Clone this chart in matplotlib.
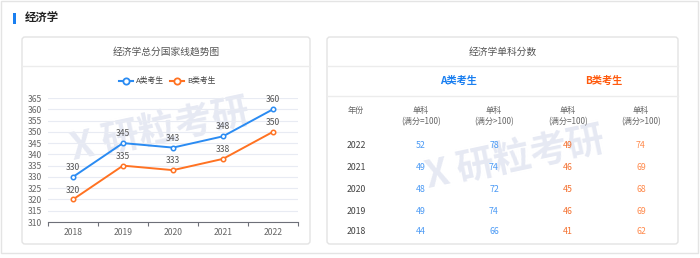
import matplotlib.pyplot as plt
from matplotlib.patches import FancyBboxPatch, Rectangle

plt.rcParams['font.family'] = ['Noto Sans CJK SC', 'DejaVu Sans']

# data
years = ['2018', '2019', '2020', '2021', '2022']
total_a = [330, 345, 343, 348, 360]
total_b = [320, 335, 333, 338, 350]

table_years = ['2022', '2021', '2020', '2019', '2018']
a_eq100 = [52, 49, 48, 49, 44]
a_gt100 = [78, 74, 72, 74, 66]
b_eq100 = [49, 46, 45, 46, 41]
b_gt100 = [74, 69, 68, 69, 62]

BLUE = '#2a8bf2'
ORANGE = '#ff7222'
GRAY = '#666666'
W, H = 700, 258

fig = plt.figure(figsize=(7, 2.58), dpi=100)
fig.patch.set_facecolor('white')

# overlay in pixel coordinates
bg = fig.add_axes([0, 0, 1, 1])
bg.set_xlim(0, W)
bg.set_ylim(H, 0)
bg.axis('off')

bg.add_patch(Rectangle((1, 1), W - 3, 252, fill=False, ec='#e4e4e4', lw=1))
bg.add_patch(Rectangle((13, 13), 3, 11, color='#1a7ff0', lw=0))
bg.text(25, 18.5, '经济学', fontsize=8.2, fontweight='bold', color='#222222', va='center')


def panel(x0, x1, title):
    bg.add_patch(FancyBboxPatch((x0, 37), x1 - x0, 207,
                                boxstyle='round,pad=0,rounding_size=3',
                                fc='white', ec='#e3e3e3', lw=1))
    bg.plot([x0, x1], [65.5, 65.5], color='#ececec', lw=1)
    bg.text((x0 + x1) / 2, 52, title, fontsize=7.0, color='#555555',
            ha='center', va='center')


panel(22, 310, '经济学总分国家线趋势图')
panel(327, 678, '经济学单科分数')

# faint watermarks
for wx, wy in [(160, 130), (515, 158)]:
    bg.text(wx, wy, 'X 研粒考研', fontsize=27, fontweight='bold', color='#e6e9f3',
            ha='center', va='center', rotation=12, zorder=2)

# right table
bg.plot([327, 678], [96, 96], color='#ececec', lw=1)
bg.text(458, 81, 'A类考生', fontsize=7.3, fontweight='bold', color='#1a7ff0',
        ha='center', va='center', zorder=3)
bg.text(604, 81, 'B类考生', fontsize=7.3, fontweight='bold', color='#ff5a0d',
        ha='center', va='center', zorder=3)

col_x = [356, 421, 494, 568, 641]
bg.text(col_x[0], 110, '年份', fontsize=5.9, color=GRAY, ha='center', va='center', zorder=3)
for cx, sub in zip(col_x[1:], ['(满分=100)', '(满分>100)', '(满分=100)', '(满分>100)']):
    bg.text(cx, 110, '单科', fontsize=5.9, color=GRAY, ha='center', va='center', zorder=3)
    bg.text(cx, 121.5, sub, fontsize=5.9, color=GRAY, ha='center', va='center', zorder=3)

row_y = [145, 167, 189, 211, 232]
for i, y in enumerate(row_y):
    kw = dict(fontsize=6.3, ha='center', va='center', zorder=3)
    bg.text(col_x[0], y, table_years[i], color='#444444', **kw)
    bg.text(col_x[1], y, str(a_eq100[i]), color='#4b9af5', **kw)
    bg.text(col_x[2], y, str(a_gt100[i]), color='#4b9af5', **kw)
    bg.text(col_x[3], y, str(b_eq100[i]), color='#f4702e', **kw)
    bg.text(col_x[4], y, str(b_gt100[i]), color='#ff8a4c', **kw)

# legend (drawn in pixel overlay)
for lx, col, lab in [(119, BLUE, 'A类考生'), (170, ORANGE, 'B类考生')]:
    bg.plot([lx, lx + 14], [81, 81], color=col, lw=1.5, zorder=3)
    bg.plot(lx + 7, 81, 'o', ms=4.5, mfc='white', mec=col, mew=1.3, zorder=3)
    bg.text(lx + 17, 81, lab, fontsize=5.6, color='#444444', va='center', zorder=3)

# line chart
ax = fig.add_axes([48 / W, 1 - 222 / H, 250 / W, 124 / H])
ax.set_facecolor('none')
x = list(range(len(years)))
ax.plot(x, total_a, color=BLUE, lw=1.4, marker='o', ms=3.2, mfc='white', mec=BLUE, mew=1.1)
ax.plot(x, total_b, color=ORANGE, lw=1.4, marker='o', ms=3.2, mfc='white', mec=ORANGE, mew=1.1)
for xi, va, vb in zip(x, total_a, total_b):
    ax.annotate(str(va), (xi, va), xytext=(0, 3.5), textcoords='offset points',
                ha='center', va='bottom', fontsize=6.2, color='#555555')
    ax.annotate(str(vb), (xi, vb), xytext=(0, 3.5), textcoords='offset points',
                ha='center', va='bottom', fontsize=6.2, color='#555555')

ax.set_xlim(-0.5, len(years) - 0.5)
ax.set_ylim(310, 365)
ax.set_yticks(range(310, 366, 5))
ax.set_xticks(x)
ax.set_xticklabels(years)
ax.set_xticks([i - 0.5 for i in range(len(years) + 1)], minor=True)
ax.tick_params(axis='x', which='major', length=0, labelsize=6.2, labelcolor='#666666', pad=4)
ax.tick_params(axis='x', which='minor', length=3, color='#6e7079', width=0.8)
ax.tick_params(axis='y', length=0, labelsize=6.2, labelcolor='#666666', pad=4)
ax.grid(axis='y', color='#e8ebf3', lw=0.8)
ax.set_axisbelow(True)
for s in ['top', 'right', 'left']:
    ax.spines[s].set_visible(False)
ax.spines['bottom'].set_color('#6e7079')
ax.spines['bottom'].set_linewidth(0.8)

fig.savefig('out.png', dpi=100)
